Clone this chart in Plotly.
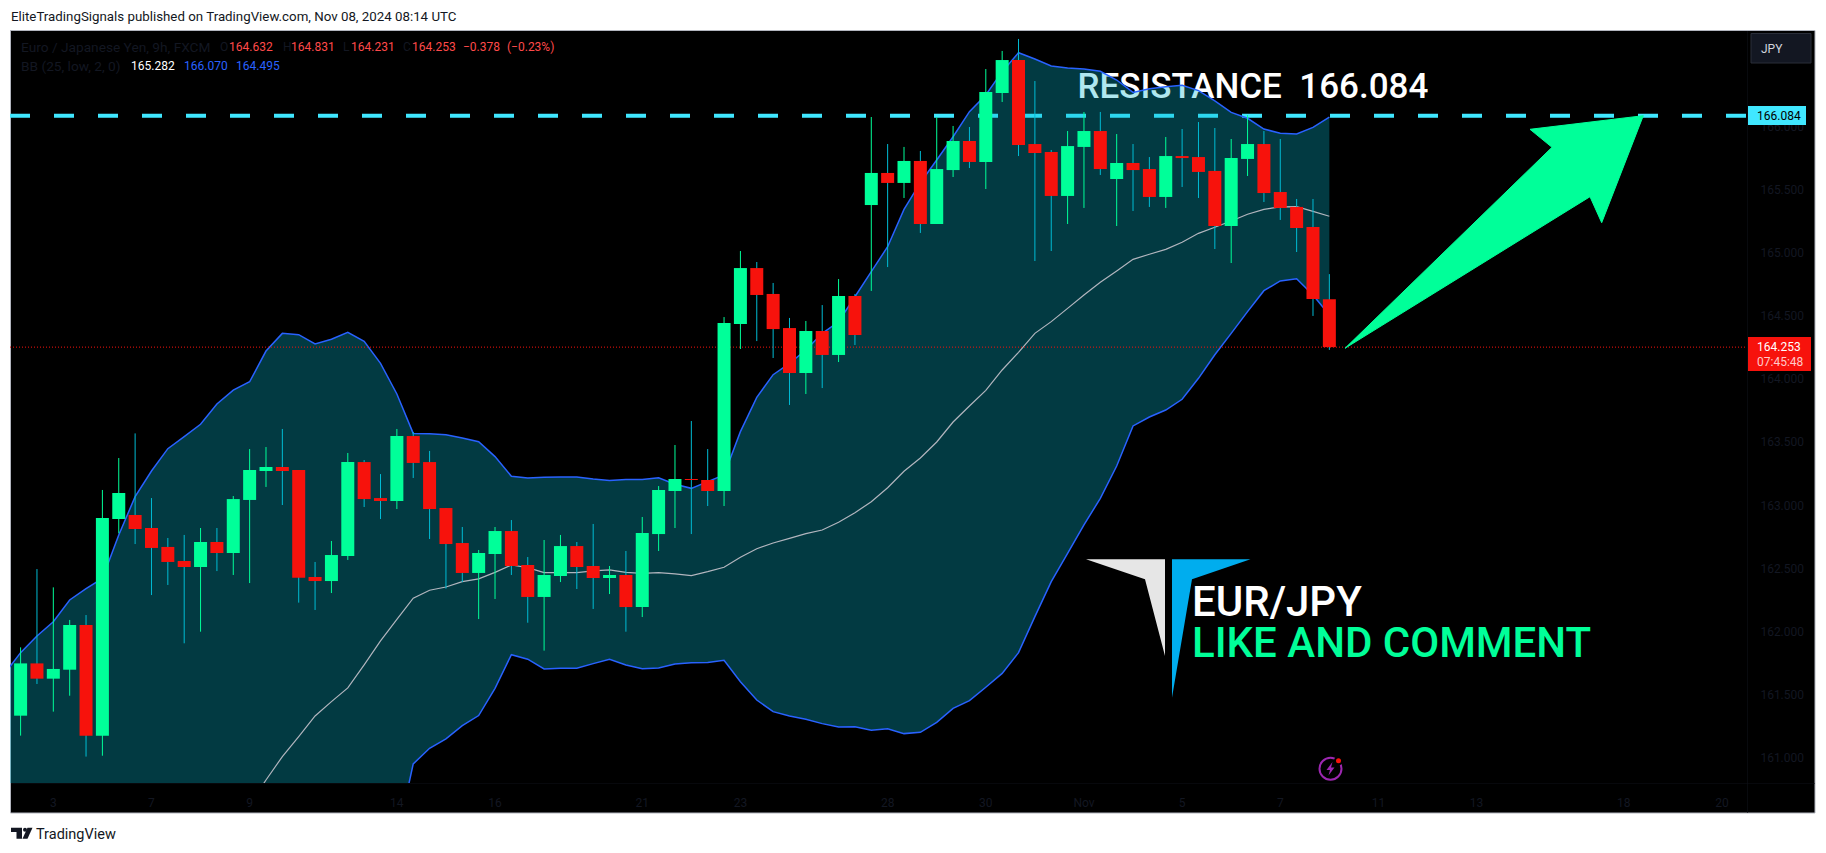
import plotly.graph_objects as go

W, H = 1826, 853

# ---------- data ----------
CANDLE_INDEX = list(range(81))
OPEN = [161.335,161.749,161.628,161.699,162.053,161.177,162.892,162.924,162.821,162.671,
        162.560,162.512,162.710,162.623,163.043,163.272,163.304,163.280,162.433,162.401,
        162.599,163.343,163.058,163.035,163.549,163.343,162.979,162.702,162.465,162.615,
        162.797,162.528,162.275,162.441,162.678,162.520,162.425,162.449,162.195,162.773,
        163.114,163.209,163.201,163.114,164.436,164.879,164.674,164.404,164.048,164.381,
        164.191,164.658,165.378,165.632,165.553,165.727,165.228,165.655,165.885,165.719,
        166.265,166.526,165.861,165.798,165.450,165.838,165.964,165.584,165.711,165.663,
        165.442,165.766,165.758,165.648,165.212,165.743,165.861,165.481,165.363,165.204,
        164.632]
HIGH = [161.876,162.496,162.351,162.093,162.132,163.122,163.375,163.570,163.058,162.742,
        162.766,162.821,162.821,163.074,163.446,163.462,163.605,163.280,162.552,162.718,
        163.415,163.359,163.248,163.605,163.581,163.431,162.979,162.829,162.647,162.829,
        162.884,162.591,162.726,162.766,162.710,162.853,162.520,162.639,162.908,163.153,
        163.478,163.668,163.446,164.491,165.014,164.927,164.761,164.484,164.460,164.586,
        164.792,164.674,166.075,165.861,165.838,165.806,166.075,166.004,165.996,166.455,
        166.598,166.693,166.360,165.814,165.964,166.115,166.115,165.940,165.861,165.758,
        165.917,165.980,166.035,165.988,165.901,166.091,165.964,165.901,165.426,165.426,
        164.831]
LOW = [161.177,161.586,161.367,161.493,161.011,161.018,162.779,162.694,162.290,162.370,
       161.908,162.000,162.480,162.449,162.385,163.146,163.003,162.230,162.172,162.306,
       162.568,162.987,162.892,162.971,163.217,162.734,162.341,162.393,162.100,162.259,
       162.449,162.071,161.850,162.393,162.338,162.180,162.298,162.000,162.116,162.639,
       162.821,162.773,162.995,162.995,164.238,164.301,164.167,163.795,163.882,163.929,
       164.135,164.270,164.698,164.887,165.434,165.157,165.228,165.600,165.671,165.505,
       166.194,165.766,164.935,165.014,165.228,165.355,165.616,165.212,165.331,165.363,
       165.355,165.521,165.434,165.030,164.919,165.608,165.402,165.260,165.006,164.500,
       164.231]
CLOSE = [161.749,161.628,161.705,162.053,161.177,162.900,163.098,162.813,162.663,162.552,
         162.512,162.710,162.623,163.050,163.280,163.304,163.272,162.428,162.401,162.607,
         163.343,163.050,163.035,163.549,163.336,162.971,162.694,162.465,162.623,162.797,
         162.520,162.275,162.449,162.678,162.512,162.425,162.449,162.195,162.781,163.122,
         163.209,163.201,163.114,164.444,164.879,164.666,164.396,164.048,164.381,164.191,
         164.658,164.349,165.632,165.553,165.727,165.228,165.663,165.885,165.719,166.273,
         166.526,165.853,165.790,165.450,165.845,165.964,165.663,165.711,165.655,165.442,
         165.766,165.750,165.640,165.212,165.750,165.861,165.473,165.355,165.196,164.634,
         164.253]

BAND_INDEX = list(range(-1, 81))
BB_UPPER = [161.665,161.834,161.966,162.079,162.251,162.341,162.422,162.766,163.069,163.272,
            163.449,163.544,163.642,163.803,163.913,163.979,164.222,164.362,164.352,164.278,
            164.315,164.370,164.299,164.125,163.882,163.570,163.568,163.560,163.533,163.504,
            163.386,163.230,163.217,163.222,163.225,163.225,163.209,163.198,163.204,163.204,
            163.219,163.167,163.135,163.188,163.241,163.584,163.855,164.035,164.125,164.230,
            164.362,164.454,164.652,164.851,165.048,165.344,165.555,165.735,165.919,166.117,
            166.249,166.434,166.584,166.534,166.479,166.463,166.455,166.437,166.368,166.270,
            166.299,166.315,166.326,166.284,166.202,166.112,166.065,165.980,165.946,165.940,
            165.993,166.075]
BB_LOWER = [160.200,160.000,159.800,159.600,159.400,159.300,159.200,158.900,158.600,158.300,
            158.000,157.800,157.600,157.400,157.300,157.280,157.430,157.660,157.990,158.390,
            158.580,158.740,159.175,159.730,160.362,160.953,161.077,161.151,161.256,161.336,
            161.552,161.818,161.782,161.705,161.710,161.710,161.747,161.781,161.736,161.707,
            161.713,161.744,161.755,161.757,161.773,161.604,161.459,161.367,161.333,161.306,
            161.272,161.246,161.248,161.219,161.232,161.193,161.203,161.282,161.393,161.454,
            161.560,161.670,161.834,162.119,162.396,162.620,162.845,163.056,163.312,163.629,
            163.700,163.755,163.840,164.006,164.193,164.362,164.534,164.700,164.777,164.795,
            164.666,164.507]
MID_INDEX = list(range(14, 81))
BB_MID = [160.628,160.826,161.011,161.169,161.333,161.446,161.555,161.737,161.927,162.098,
          162.265,162.328,162.354,162.396,162.418,162.470,162.528,162.507,162.468,162.468,
          162.468,162.481,162.489,162.470,162.462,162.467,162.457,162.444,162.475,162.510,
          162.589,162.657,162.702,162.739,162.776,162.805,162.866,162.942,163.029,163.140,
          163.270,163.375,163.502,163.660,163.787,163.911,164.072,164.212,164.362,164.455,
          164.560,164.666,164.766,164.856,164.948,164.988,165.027,165.083,165.154,165.202,
          165.252,165.305,165.344,165.363,165.365,165.328,165.289]

RESISTANCE = 166.084
LAST_PRICE = 164.253
Y_TICKS = [161.0,161.5,162.0,162.5,163.0,163.5,164.0,164.5,165.0,165.5,166.0]
Y_TICK_TEXT = ["161.000","161.500","162.000","162.500","163.000","163.500","164.000","164.500","165.000","165.500","166.000"]
X_TICKS = [2,8,14,23,29,38,44,53,59,65,71,77,83,89,98,104]
X_TICK_TEXT = ["3","7","9","14","16","21","23","28","30","Nov","5","7","11","13","18","20"]

# ---------- style ----------
GREEN = "#00FF99"
RED = "#F7120C"
WICK_DOWN = "#00BCD4"
CYAN = "#40E7FF"
BLUE = "#2962FF"
DIM = "#131722"
FONT = "Roboto"
BIG_FONT = "Roboto"
BIG_WEIGHT = 500
X_RANGE = [-0.648, 105.53]
Y_RANGE = [160.802, 166.756]
BODY_PX = 13


def px(x):
    return x / W


def py(y):
    return 1 - y / H


def poly(points):
    return "M " + " L ".join(f"{px(a):.6f} {py(b):.6f}" for a, b in points) + " Z"


def segments(rows):
    xs, ys = [], []
    for x, a, b in rows:
        xs += [x, x, None]
        ys += [a, b, None]
    return xs, ys


is_up = [c >= o for o, c in zip(OPEN, CLOSE)]
wick_up = segments([(i, l, h) for i, l, h, u in zip(CANDLE_INDEX, LOW, HIGH, is_up) if u])
wick_dn = segments([(i, l, h) for i, l, h, u in zip(CANDLE_INDEX, LOW, HIGH, is_up) if not u])
body_up = segments([(i, o, c) for i, o, c, u in zip(CANDLE_INDEX, OPEN, CLOSE, is_up) if u])
body_dn = segments([(i, o, c) for i, o, c, u in zip(CANDLE_INDEX, OPEN, CLOSE, is_up) if not u])

fig = go.Figure()


def line_trace(x, y, color, width, dash=None, **kw):
    fig.add_trace(go.Scatter(x=x, y=y, mode="lines", hoverinfo="skip", showlegend=False,
                             line=dict(color=color, width=width, dash=dash, simplify=False), **kw))


fig.add_trace(go.Scatter(x=[64.6], y=[166.297], mode="text", text=["RESISTANCE\u00a0\u00a0166.084"],
                         textposition="middle right", hoverinfo="skip", showlegend=False,
                         textfont=dict(family=BIG_FONT, size=35, weight=BIG_WEIGHT, color="#FFFFFF")))
line_trace(X_RANGE, [RESISTANCE, RESISTANCE], CYAN, 4, "20px,24px")
line_trace(BAND_INDEX, BB_UPPER, BLUE, 1.5)
line_trace(BAND_INDEX, BB_LOWER, BLUE, 1.5, fill="tonexty", fillcolor="rgba(6,181,206,0.32)")
line_trace(MID_INDEX, BB_MID, "#B2B5BE", 1.2)
line_trace(X_RANGE, [LAST_PRICE, LAST_PRICE], RED, 1, "1px,2px")
line_trace(wick_up[0], wick_up[1], GREEN, 1)
line_trace(wick_dn[0], wick_dn[1], WICK_DOWN, 1)
line_trace(body_up[0], body_up[1], GREEN, BODY_PX)
line_trace(body_dn[0], body_dn[1], RED, BODY_PX)

shapes = []


def add_poly(points, fill, layer="above", line=None, lw=0):
    shapes.append(dict(type="path", xref="paper", yref="paper", path=poly(points), fillcolor=fill,
                       line=dict(color=line or fill, width=lw), layer=layer))


def add_rect(x0, y0, x1, y1, fill, line=None, lw=0, layer="above"):
    shapes.append(dict(type="rect", xref="paper", yref="paper", x0=px(x0), x1=px(x1), y0=py(y1), y1=py(y0),
                       fillcolor=fill, line=dict(color=line or fill, width=lw), layer=layer))


def add_circle(cx, cy, r, fill, line=None, lw=0):
    shapes.append(dict(type="circle", xref="paper", yref="paper", x0=px(cx - r), x1=px(cx + r),
                       y0=py(cy + r), y1=py(cy - r), fillcolor=fill,
                       line=dict(color=line or fill, width=lw), layer="above"))


add_rect(10.5, 30.5, 1815, 813, "#000000", "#B2B5BE", 1, layer="below")
add_rect(1747, 31, 1747.6, 813, "#0E1118")
add_rect(11, 783, 1815, 783.6, "#0E1118")

# arrow
add_poly([(1345, 348.3), (1552, 147.3), (1530, 129.3), (1643.3, 115.7), (1601.7, 222.7), (1590, 196.7)],
         GREEN, line=GREEN, lw=1)
# logo
add_poly([(1086, 559.3), (1165, 559.3), (1165, 656), (1145, 579.3)], "#E6E6E6")
add_poly([(1172, 559.3), (1250.5, 559.3), (1192, 579.3), (1172, 697.7)], "#00ADEE")
# JPY button and price labels
add_rect(1751, 33.5, 1811, 63, "#131722", "#2A2E39", 1)
add_rect(1748, 106, 1806, 125, CYAN)
add_rect(1748, 337, 1811, 371, RED)
# bolt icon
add_circle(1330.5, 768.7, 11, "rgba(0,0,0,0)", "#9C27B0", 2)
add_poly([(1332.5, 762), (1326.5, 770), (1330, 770), (1328.5, 775.5), (1334.5, 767.5), (1331, 767.5)], "#9C27B0")
add_circle(1338.5, 760.7, 3.5, RED, "#000000", 2)
# TradingView mark
add_poly([(11, 827.7), (22, 827.7), (22, 838.7), (16.5, 838.7), (16.5, 832), (11, 832)], "#131722")
add_circle(25, 829.8, 2, "#131722")
add_poly([(27.5, 827.7), (32.5, 827.7), (27.5, 838.7), (22.5, 838.7)], "#131722")

notes = []


def note(x, y, text, color=DIM, size=12, family=FONT, weight=400):
    notes.append(dict(x=px(x), y=py(y), xref="paper", yref="paper", text=text, showarrow=False,
                      xanchor="left", yanchor="middle", borderpad=0, align="left",
                      font=dict(family=family, size=size, color=color, weight=weight)))


note(10, 16.5, "EliteTradingSignals published on TradingView.com, Nov 08, 2024 08:14 UTC", size=13.3)
note(34.5, 834.5, "TradingView", size=14.5)
note(19.5, 46.7, "Euro / Japanese Yen, 9h, FXCM", size=13.7)
for x, t in [(219, "O"), (282, "H"), (342, "L"), (402, "C")]:
    note(x, 46.7, t)
LEG_RED = "#FF4A4A"
for x, t in [(228, "164.632"), (290, "164.831"), (350, "164.231"), (411, "164.253"), (462, "\u22120.378"), (506, "(\u22120.23%)")]:
    note(x, 46.7, t, LEG_RED)
note(19.5, 65.7, "BB (25, low, 2, 0)", size=13.7)
note(129.5, 65.7, "165.282", "#FFFFFF")
note(182.5, 65.7, "166.070", BLUE)
note(235, 65.7, "164.495", BLUE)
note(1760, 48.5, "JPY", "#D1D4DC")
note(1756, 116, "166.084", "#000000")
note(1756, 347, "164.253", "#FFFFFF")
note(1756, 362, "07:45:48", "#FFC9C9")
note(1191, 601.7, "EUR/JPY", "#FFFFFF", 42, BIG_FONT, BIG_WEIGHT)
note(1191, 642.7, "LIKE AND COMMENT", GREEN, 42, BIG_FONT, BIG_WEIGHT)

fig.update_layout(
    width=W, height=H, autosize=False,
    margin=dict(l=0, r=0, t=0, b=0, autoexpand=False),
    paper_bgcolor="#FFFFFF", plot_bgcolor="#000000",
    showlegend=False, shapes=shapes, annotations=notes,
    font=dict(family=FONT, size=12, color=DIM),
    xaxis=dict(domain=[px(10), px(1747)], range=X_RANGE, showgrid=False, zeroline=False,
               tickmode="array", tickvals=X_TICKS, ticktext=X_TICK_TEXT, ticks="outside", ticklen=9,
               tickcolor="rgba(0,0,0,0)", tickfont=dict(family=FONT, size=12, color=DIM)),
    yaxis=dict(domain=[py(783), py(31)], range=Y_RANGE, side="right", showgrid=False, zeroline=False,
               tickmode="array", tickvals=Y_TICKS, ticktext=Y_TICK_TEXT, ticks="outside", ticklen=10,
               tickcolor="rgba(0,0,0,0)", tickfont=dict(family=FONT, size=12, color=DIM)),
)

fig.write_html("out.html", config=dict(displayModeBar=False),
               post_script="document.body.style.margin='0';document.body.style.overflow='hidden';")
